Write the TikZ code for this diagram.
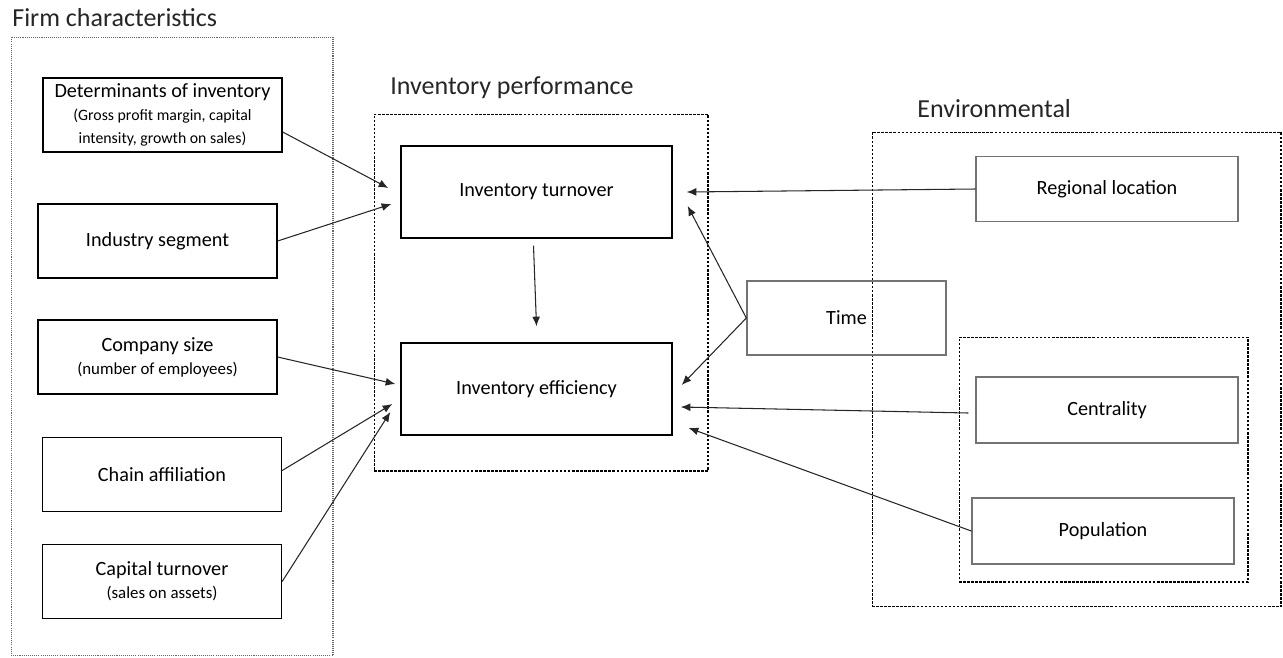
\documentclass[tikz,border=0pt]{standalone}
\usepackage{fontspec}
\setmainfont{Carlito}
\usepackage{tikz}
\usetikzlibrary{arrows.meta,calc,positioning}

\newcommand{\subtext}{\fontsize{9}{10.8}\selectfont}
\newcommand{\subnote}{\fontsize{9.6}{11.5}\selectfont}

\begin{document}
\begin{tikzpicture}[
    x=0.02cm, y=-0.02cm,
    heading/.style={anchor=west, inner sep=0pt, font=\fontsize{14.8}{17}\selectfont, text=black!85},
    factor/.style={draw, line width=0.8pt, align=center, inner sep=2pt,
        minimum width=4.78cm, minimum height=1.48cm, font=\fontsize{11.5}{13}\selectfont},
    outcome/.style={factor, minimum width=5.42cm, minimum height=1.84cm},
    envfactor/.style={factor, draw=black!55, minimum width=5.24cm, minimum height=1.3cm},
    group/.style={draw, line width=0.6pt, dash pattern=on 1.4pt off 0.9pt, inner sep=0pt},
    link/.style={-{Latex[length=5.5pt,width=4.5pt]}, line width=0.6pt, black!85},
]
\useasboundingbox (0,0) rectangle (1283,657);

% Group frames
\node[group, draw=black!60, dash pattern=on 0.6pt off 0.6pt,
    minimum width=6.44cm, minimum height=12.38cm] (firm) at (172,346.5) {};
\node[group, minimum width=6.68cm, minimum height=7.14cm] (perf) at (541,292.5) {};
\node[group, minimum width=8.18cm, minimum height=9.5cm] (env) at (1076.5,369.5) {};
\node[group, minimum width=5.78cm, minimum height=4.9cm] (envsub) at (1103.5,459.5) {};

\node[heading] (firmlabel) at (12,18) {Firm characteristics};
\node[heading] (perflabel) at (390,88) {Inventory performance};
\node[heading] (envlabel) at (917,109) {Environmental};

% Firm characteristics
\node[factor] (det) at (162.5,115) {Determinants of inventory\\
    \subtext (Gross profit margin, capital\\ \subtext intensity, growth on sales)};
\node[factor] (ind) at (157.5,241) {Industry segment};
\node[factor] (comp) at (157.5,357) {Company size\\ \subnote (number of employees)};
\node[factor] (chain) at (162,474.5) {Chain affiliation};
\node[factor] (capt) at (162,581.5) {Capital turnover\\ \subnote (sales on assets)};

% Inventory performance
\node[outcome] (turn) at (536.5,192) {Inventory turnover};
\node[outcome] (eff) at (536.5,389) {Inventory efficiency};

% Environmental
\node[factor, draw=black!55, minimum width=3.98cm] (time) at (846.5,318) {Time};
\node[envfactor] (reg) at (1107,189) {Regional location};
\node[envfactor, minimum height=1.32cm] (cent) at (1107,410) {Centrality};
\node[envfactor, minimum height=1.32cm] (pop) at (1103,531) {Population};

% Links
\draw[link] ($(det.east)+(0,17)$) -- ($(turn.west)+(-12,-4)$);
\draw[link] (ind.east) -- ($(turn.west)+(-9,12)$);
\draw[link] (comp.east) -- ($(eff.west)+(-5,-5)$);
\draw[link] ($(chain.east)+(0,-4)$) -- ($(eff.west)+(-8,15)$);
\draw[link] (capt.east) -- ($(eff.west)+(-10,23)$);
\draw[link] ($(turn.south)+(-3,7)$) -- ($(eff.north)+(0,-16)$);
\draw[link] (reg.west) -- ($(turn.east)+(14,0)$);
\draw[link] (time.west) -- ($(turn.east)+(15,14)$);
\draw[link] (time.west) -- ($(eff.east)+(9,-4)$);
\draw[link] ($(cent.west)+(-7,3)$) -- ($(eff.east)+(8,18)$);
\draw[link] (pop.west) -- ($(eff.east)+(16,39)$);

\end{tikzpicture}
\end{document}
